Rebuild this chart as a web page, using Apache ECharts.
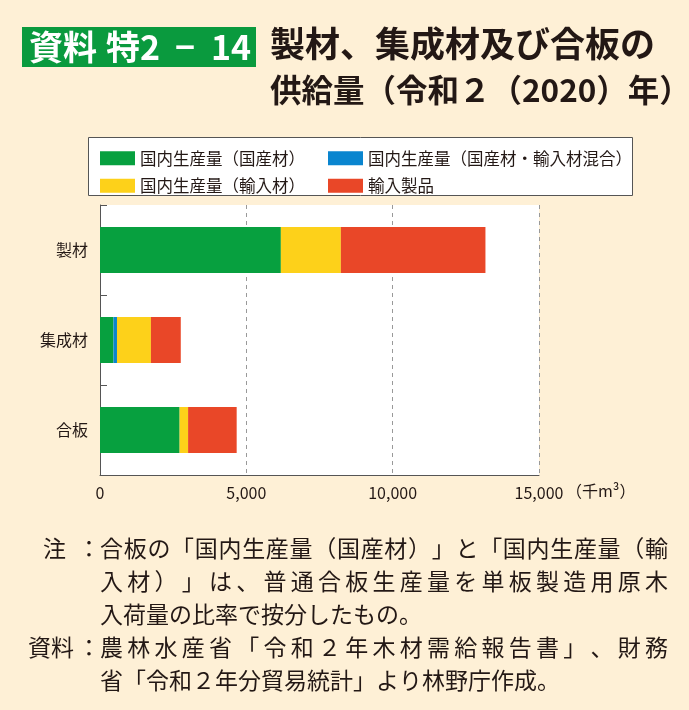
<!DOCTYPE html>
<html><head><meta charset="utf-8">
<script src="https://cdn.jsdelivr.net/npm/echarts@6/dist/echarts.min.js"></script>
<style>html,body{margin:0;padding:0;background:#FEF0D6;}#c{width:689px;height:710px;}</style>
</head><body><div id="c"></div>
<script>
const categories = ['製材', '集成材', '合板'];
const domesticDomestic = [6180, 460, 2720];
const domesticMixed = [0, 120, 0];
const domesticImported = [2050, 1160, 290];
const importedProducts = [4940, 1020, 1660];
const seriesNames = ['国内生産量（国産材）', '国内生産量（国産材・輸入材混合）', '国内生産量（輸入材）', '輸入製品'];
const xTicks = [0, 5000, 10000, 15000];

const colors = ['#07A03F', '#0A85CF', '#FDD11A', '#E94728'];
const dataSets = [domesticDomestic, domesticMixed, domesticImported, importedProducts];
const FONT = '"Noto Sans CJK JP", "Noto Sans", sans-serif';
const TXT = '#231815';

const chart = echarts.init(document.getElementById('c'));
const noteLines = [
  {k: '注', t: '合板の「国内生産量（国産材）」と「国内生産量（輸', y: 548, j: true},
  {k: '', t: '入材）」は、普通合板生産量を単板製造用原木', y: 581, j: true},
  {k: '', t: '入荷量の比率で按分したもの。', y: 614, j: false},
  {k: '資料', t: '農林水産省「令和２年木材需給報告書」、財務', y: 647, j: true},
  {k: '', t: '省「令和２年分貿易統計」より林野庁作成。', y: 680, j: false}
];
const NOTE_FONT = '23px ' + FONT;
const ctx = document.createElement('canvas').getContext('2d');
ctx.font = NOTE_FONT;

const BOX_FONT = 'bold 34px ' + FONT;
const graphics = [
  {type: 'rect', left: 22, top: 27, shape: {width: 234, height: 40}, style: {fill: '#0A9A3E'}},
  {type: 'text', x: 29, y: 47, style: {text: '資料', fill: '#fff', font: BOX_FONT, verticalAlign: 'middle'}},
  {type: 'text', x: 106, y: 47, style: {text: '特2', fill: '#fff', font: BOX_FONT, verticalAlign: 'middle'}},
  {type: 'text', x: 175, y: 47, style: {text: '−', fill: '#fff', font: BOX_FONT, verticalAlign: 'middle'}},
  {type: 'text', x: 211, y: 47, style: {text: '14', fill: '#fff', font: BOX_FONT, verticalAlign: 'middle'}},
  {type: 'text', left: 270, top: 26, style: {text: '製材、集成材及び合板の', fill: TXT, font: 'bold 35px ' + FONT}},
  {type: 'text', left: 270, top: 74, style: {text: '供給量（令和２（2020）年）', fill: TXT, font: 'bold 31.5px ' + FONT}},
  {type: 'rect', left: 88, top: 137, shape: {width: 544, height: 58}, style: {fill: '#fff', stroke: '#555', lineWidth: 1}, z: -1},
  {type: 'text', left: 566, top: 483, style: {text: '（千m³）', fill: TXT, font: '16px ' + FONT}}
];
noteLines.forEach(l => {
  if (l.k) {
    graphics.push({type: 'text', x: l.k.length > 1 ? 74 : 66, y: l.y, style: {text: l.k, fill: TXT, font: NOTE_FONT, align: 'right', verticalAlign: 'middle'}});
    graphics.push({type: 'text', x: 89, y: l.y, style: {text: '：', fill: TXT, font: NOTE_FONT, align: 'center', verticalAlign: 'middle'}});
  }
  const chars = Array.from(l.t);
  const widths = chars.map(c => ctx.measureText(c).width);
  const total = widths.reduce((a, b) => a + b, 0);
  const extra = l.j ? (568 - total) / (chars.length - 1) : 0;
  let x = 100;
  chars.forEach((c, i) => {
    graphics.push({type: 'text', x: x, y: l.y, style: {text: c, fill: TXT, font: NOTE_FONT, align: 'left', verticalAlign: 'middle'}});
    x += widths[i] + extra;
  });
});

chart.setOption({
  backgroundColor: '#FEF0D6',
  animation: false,
  textStyle: {fontFamily: FONT},
  graphic: graphics,
  legend: [
    {orient: 'vertical', left: 95, top: 145, itemWidth: 35, itemHeight: 14, itemGap: 11, icon: 'rect',
     data: [seriesNames[0], seriesNames[2]], textStyle: {fontSize: 16.5, color: TXT}},
    {orient: 'vertical', left: 323, top: 145, itemWidth: 35, itemHeight: 14, itemGap: 11, icon: 'rect',
     data: [seriesNames[1], seriesNames[3]], textStyle: {fontSize: 16.5, color: TXT}}
  ],
  grid: {left: 100, top: 205, width: 439, height: 270, show: true, backgroundColor: '#fff', borderWidth: 0},
  xAxis: {
    type: 'value', min: xTicks[0], max: xTicks[xTicks.length - 1], interval: 5000,
    axisLine: {show: true, lineStyle: {color: '#555', width: 1}},
    axisTick: {show: false},
    splitLine: {show: true, lineStyle: {type: [4, 4], color: '#999'}},
    axisLabel: {fontSize: 16, color: TXT, margin: 10, formatter: v => v.toLocaleString('en-US')}
  },
  yAxis: {
    type: 'category', inverse: true, data: categories,
    axisLine: {show: true, lineStyle: {color: '#555', width: 1}},
    axisTick: {show: true, inside: true, length: 7, lineStyle: {color: '#555'}},
    axisLabel: {fontSize: 16, color: TXT, margin: 12}
  },
  series: seriesNames.map((n, i) => ({
    name: n, type: 'bar', stack: 'total', data: dataSets[i], barWidth: 46,
    itemStyle: {color: colors[i]}
  }))
});
</script></body></html>
